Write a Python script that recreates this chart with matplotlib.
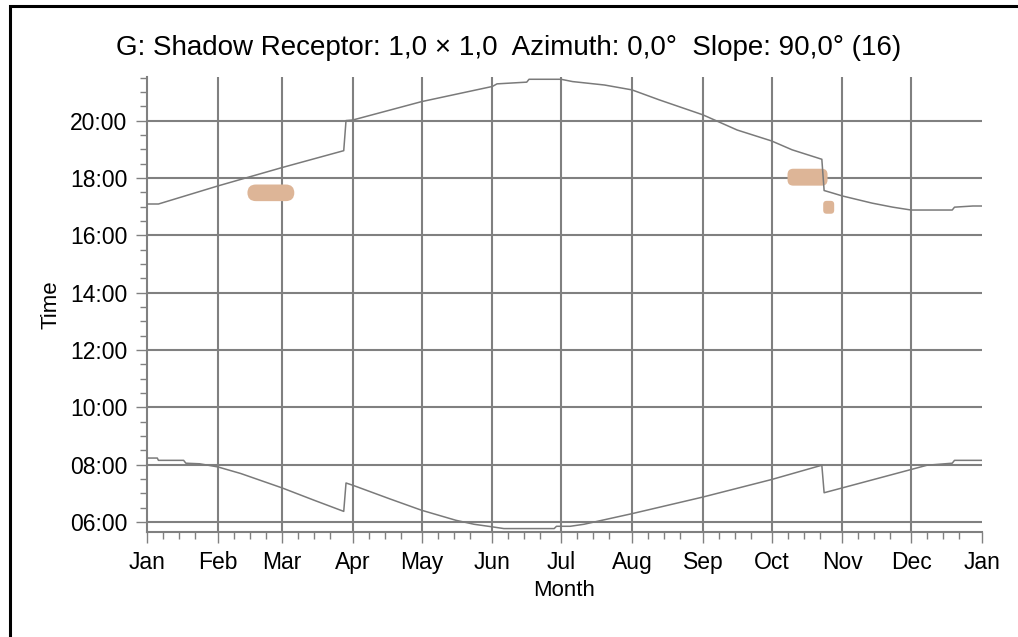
import matplotlib
matplotlib.use("Agg")
import matplotlib.pyplot as plt
from matplotlib.patches import FancyBboxPatch, Rectangle

plt.rcParams['font.family'] = ['Liberation Sans', 'DejaVu Sans']

# month starts (day of year) and labels
month_days = [0, 31, 59, 90, 120, 151, 181, 212, 243, 273, 304, 334, 365]
month_labels = ['Jan', 'Feb', 'Mar', 'Apr', 'May', 'Jun', 'Jul',
                'Aug', 'Sep', 'Oct', 'Nov', 'Dec', 'Jan']

# sunset curve (day, hour)
sunset_day = [0, 5, 31, 59, 86, 87, 90, 120, 151, 153, 166, 167, 181, 186,
              200, 212, 224, 243, 258, 273, 282, 295, 296, 299, 304, 317,
              326, 334, 352, 353, 361, 365]
sunset_hour = [17.09, 17.09, 17.72, 18.36, 18.95, 20.0, 20.02, 20.66, 21.19,
               21.28, 21.34, 21.44, 21.44, 21.36, 21.24, 21.07, 20.72, 20.2,
               19.67, 19.29, 18.98, 18.65, 17.56, 17.49, 17.37, 17.12, 16.98,
               16.88, 16.88, 16.98, 17.02, 17.02]

# sunrise curve (day, hour)
sunrise_day = [0, 4.5, 5, 16, 17, 23, 31, 41, 59, 73, 86, 87, 90, 106, 120,
               135, 143, 151, 156, 178, 179, 185, 191, 212, 243, 273, 295,
               296, 304, 334, 341, 352, 353, 365]
sunrise_hour = [8.23, 8.23, 8.15, 8.15, 8.05, 8.03, 7.92, 7.69, 7.19, 6.76,
                6.37, 7.36, 7.28, 6.81, 6.41, 6.06, 5.92, 5.83, 5.77, 5.77,
                5.85, 5.85, 5.92, 6.29, 6.87, 7.48, 7.98, 7.02, 7.19, 7.83,
                7.98, 8.05, 8.15, 8.15]

# shadow periods: day start/end, hour low/high
shadow_day0 = [43.9, 280.0, 295.6]
shadow_day1 = [64.4, 297.5, 300.4]
shadow_h0 = [17.19, 17.73, 16.75]
shadow_h1 = [17.77, 18.32, 17.20]
shadow_round = [3.7, 2.5, 1.5]

hour_ticks = [6, 8, 10, 12, 14, 16, 18, 20]

fig = plt.figure(figsize=(10.18, 6.37), dpi=100)
ax = fig.add_axes([0.1444, 0.1648, 0.8202, 0.7148])

grey = '#808080'
ax.set_xlim(0, 365)
ax.set_ylim(5.65, 21.53)

for d in month_days[1:-1]:
    ax.axvline(d, color=grey, lw=1.5, zorder=1)
for h in hour_ticks:
    ax.axhline(h, color=grey, lw=1.5, zorder=1)

shade = '#ddb597'
for d0, d1, h0, h1, r in zip(shadow_day0, shadow_day1, shadow_h0, shadow_h1, shadow_round):
    p = FancyBboxPatch((d0, h0), d1 - d0, h1 - h0,
                       boxstyle="round,pad=0,rounding_size=%s" % r,
                       mutation_aspect=0.08, facecolor=shade, edgecolor='none', zorder=2)
    ax.add_patch(p)

ax.plot(sunset_day, sunset_hour, color='#7a7a7a', lw=1.1, zorder=3)
ax.plot(sunrise_day, sunrise_hour, color='#7a7a7a', lw=1.1, zorder=3)

ax.set_xticks(month_days)
ax.set_xticklabels(month_labels)
minor_x = [m + k for m in month_days[:-1] for k in (7, 14, 21)]
ax.set_xticks(minor_x, minor=True)
ax.set_yticks(hour_ticks)
ax.set_yticklabels(['%02d:00' % h for h in hour_ticks])
ax.set_yticks([h / 2 for h in range(12, 44)], minor=True)

ax.tick_params(which='major', length=8, width=1, color=grey, labelsize=16.5, pad=6)
ax.tick_params(which='minor', length=5, width=1, color=grey)

for s in ['top', 'right']:
    ax.spines[s].set_visible(False)
for s in ['left', 'bottom']:
    ax.spines[s].set_color(grey)
    ax.spines[s].set_linewidth(1.5)

ax.set_xlabel('Month', fontsize=16, labelpad=4)
ax.set_ylabel('Time', fontsize=16, labelpad=6)
fig.suptitle('G: Shadow Receptor: 1,0 × 1,0  Azimuth: 0,0°  Slope: 90,0° (16)',
             fontsize=20, y=0.945)

fig.patches.append(Rectangle((9.5 / 1018, -0.1), 1.2, 1.1 - 6 / 637, fill=False,
                             edgecolor='black', lw=2.2, transform=fig.transFigure,
                             figure=fig))

fig.savefig('out.png', dpi=100, facecolor='white')
